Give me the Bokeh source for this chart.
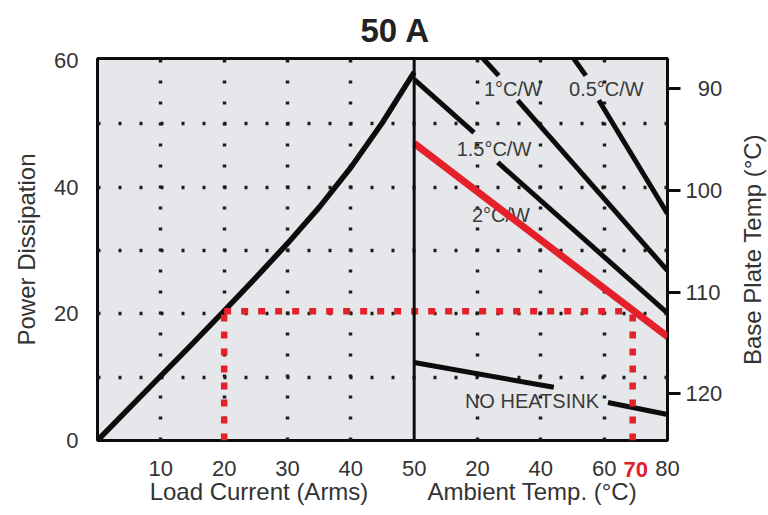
import math
from bokeh.plotting import figure
from bokeh.layouts import row
from bokeh.models import Range1d, LinearAxis, FixedTicker, Grid, Span
from bokeh.core.properties import value
from bokeh.embed import file_html
from bokeh.resources import INLINE

# ---------------- data ----------------
load_current = [0, 5, 10, 15, 20, 25, 30, 35, 40, 45, 50]
power_dissipation = [0, 5.1, 10.2, 15.3, 20.45, 25.7, 31.1, 36.8, 43.1, 50.2, 58.15]

# heatsink derating lines: ambient temp (degC) vs power (W); gaps where labels sit
hs_1p5_a_amb = [0.0, 18.9]
hs_1p5_a_pw = [57.0, 48.6]
hs_1p5_b_amb = [26.4, 80.0]
hs_1p5_b_pw = [43.9, 20.1]
hs_1_a_amb = [21.4, 26.7]
hs_1_a_pw = [60.5, 57.6]
hs_1_b_amb = [32.7, 80.0]
hs_1_b_pw = [53.7, 26.8]
hs_0p5_a_amb = [50.1, 54.2]
hs_0p5_a_pw = [60.5, 57.6]
hs_0p5_b_amb = [58.3, 80.0]
hs_0p5_b_pw = [53.7, 35.8]
no_hs_a_amb = [0.0, 44.1]
no_hs_a_pw = [12.3, 8.4]
no_hs_b_amb = [61.2, 80.0]
no_hs_b_pw = [6.0, 4.1]
hs_2_amb = [0.0, 80.0]
hs_2_pw = [46.9, 16.4]

hs_label_text = ["1°C/W", "0.5°C/W", "1.5°C/W", "2°C/W", "NO HEATSINK"]
hs_label_amb = [31.2, 60.7, 25.2, 27.4, 37.2]
hs_label_pw = [55.5, 55.5, 46.0, 35.6, 6.3]

op_load = 20
op_power = 20.4
op_amb = 69
op_amb_tick = 70

load_ticks = [10, 20, 30, 40, 50]
amb_ticks = [20, 40, 60, 80]
power_ticks = [0, 20, 40, 60]
base_plate_ticks = [90, 100, 110, 120]
power_grid = [10, 20, 30, 40, 50]
load_grid = [10, 20, 30, 40]
amb_grid = [20, 40, 60]

load_title = "Load Current (Arms)"
load_title_at = 25.5          # load current (A) under which it is centred
amb_title = "Ambient Temp. (°C)"
amb_title_at = 37.3           # ambient temp (°C) under which it is centred
bp_title = "Base Plate Temp (°C)"

LOAD_END = 90.0      # load-current scale across the full frame
DIVIDER = 50         # load current where the ambient section begins (ambient 0)
AMB_START, AMB_END = -100.0, 80.0
P_END = 60.3
BP_BOTTOM, BP_TOP = 124.6, 87.0

RED = "#e4202a"
INK = "#0c0c0c"
TXT = "#333333"
FONT = "Liberation Sans"

BORDER_TOP, BORDER_BOTTOM = 58, 74
MAIN_W, SIDE_W, H = 727, 41, 514


def amb_to_load(t):
    return DIVIDER + t * (LOAD_END - DIVIDER) / AMB_END


bp_range = Range1d(BP_BOTTOM, BP_TOP)

p = figure(width=MAIN_W, height=H,
           x_range=Range1d(0, LOAD_END), y_range=Range1d(0, P_END),
           output_backend="svg", toolbar_location=None,
           min_border_left=97, min_border_right=60,
           min_border_top=BORDER_TOP, min_border_bottom=BORDER_BOTTOM,
           background_fill_color="#e5e7ea", border_fill_color="white",
           outline_line_color=INK, outline_line_width=3)
p.extra_x_ranges = {"amb": Range1d(AMB_START, AMB_END)}
p.extra_y_ranges = {"bp": bp_range}

# title
p.title.text = "50 A"
p.title.align = "left"
p.title.offset = 263
p.title.text_font = FONT
p.title.text_font_size = "33px"
p.title.text_font_style = "bold"
p.title.text_color = "#222222"
p.title.standoff = 19


def plain_axis(ax, size="22px"):
    ax.axis_line_color = None
    ax.major_tick_line_color = None
    ax.major_tick_out = 0
    ax.major_tick_in = 0
    ax.minor_tick_line_color = None
    ax.minor_tick_out = 0
    ax.major_label_text_font = FONT
    ax.major_label_text_font_size = size
    ax.major_label_text_color = TXT


# bottom axis (load current + ambient temp ticks)
xa = p.xaxis[0]
amb_pos = [int(round(amb_to_load(t))) for t in amb_ticks]
xa.ticker = FixedTicker(ticks=load_ticks + amb_pos)
xa.major_label_overrides = {pos: str(t) for pos, t in zip(amb_pos, amb_ticks)}
plain_axis(xa)
xa.major_label_standoff = 20

# highlighted ambient tick (red), drawn on the same row as the other tick labels
xr = LinearAxis(x_range_name="amb", ticker=FixedTicker(ticks=[op_amb_tick]))
plain_axis(xr)
xr.major_label_text_color = RED
xr.major_label_text_font_style = "bold"
xr.major_label_standoff = -17
p.add_layout(xr, "below")

# section titles under the two halves of the x axis
t_pos = [load_title_at, round(amb_to_load(amb_title_at), 2)]
xt = LinearAxis(ticker=FixedTicker(ticks=t_pos))
xt.major_label_overrides = {t_pos[0]: load_title, t_pos[1]: amb_title}
plain_axis(xt, "24px")
xt.major_label_standoff = -2
p.add_layout(xt, "below")

# left axis
ya = p.yaxis[0]
ya.ticker = FixedTicker(ticks=power_ticks)
ya.axis_label = "Power Dissipation"
plain_axis(ya)
ya.major_label_standoff = 19
ya.axis_label_standoff = 11
ya.axis_label_text_font = FONT
ya.axis_label_text_font_size = "24px"
ya.axis_label_text_font_style = "normal"
ya.axis_label_text_color = TXT

# right axis: base plate temperature
ra = LinearAxis(y_range_name="bp", ticker=FixedTicker(ticks=base_plate_ticks))
ra.major_label_overrides = {90: "\u00a0\u00a090"}
ra.axis_line_color = None
ra.major_tick_line_color = INK
ra.major_tick_line_width = 3
ra.major_tick_out = 13
ra.major_tick_in = 0
ra.minor_tick_line_color = None
ra.minor_tick_out = 0
ra.major_label_standoff = 5
ra.major_label_text_font = FONT
ra.major_label_text_font_size = "22px"
ra.major_label_text_color = TXT
p.add_layout(ra, "right")

# dotted grids
grid_style = dict(grid_line_color="#1c1c1c", grid_line_width=3.5, grid_line_dash="3 18")
p.xgrid.ticker = FixedTicker(ticks=load_grid)
p.ygrid.ticker = FixedTicker(ticks=power_grid)
for g in (p.xgrid[0], p.ygrid[0]):
    for k, v in grid_style.items():
        setattr(g, k, v)
amb_g = Grid(dimension=0, ticker=FixedTicker(ticks=amb_grid), x_range_name="amb", **grid_style)
p.add_layout(amb_g, "center")

# divider between the two sections
p.add_layout(Span(location=DIVIDER, dimension="height", line_color=INK, line_width=3))

# power dissipation curve
p.line(load_current, power_dissipation, line_width=5.5, color=INK, line_join="round")

# heatsink lines
for xs, ys in [(hs_1p5_a_amb, hs_1p5_a_pw), (hs_1p5_b_amb, hs_1p5_b_pw),
               (hs_1_a_amb, hs_1_a_pw), (hs_1_b_amb, hs_1_b_pw),
               (hs_0p5_a_amb, hs_0p5_a_pw), (hs_0p5_b_amb, hs_0p5_b_pw),
               (no_hs_a_amb, no_hs_a_pw), (no_hs_b_amb, no_hs_b_pw)]:
    p.line(xs, ys, x_range_name="amb", line_width=5, color=INK)

p.text(x=hs_label_amb, y=hs_label_pw, text=hs_label_text, x_range_name="amb",
       text_font=value(FONT), text_font_size="20px", text_color="#3a3a3a",
       text_align="center", text_baseline="middle")

# red highlighted 2°C/W line and operating point
p.line(hs_2_amb, hs_2_pw, x_range_name="amb", line_width=7, color=RED)
dot = dict(line_width=6.5, color=RED, line_dash="7 10")
p.line([op_load, op_load], [0, op_power], **dot)
p.line([op_load, amb_to_load(op_amb)], [op_power, op_power], **dot)
p.line([op_amb, op_amb], [0, op_power], x_range_name="amb", **dot)

# strip to the right carrying the base-plate axis title (reads bottom to top)
side = figure(width=SIDE_W, height=H, title=None,
              x_range=Range1d(0, SIDE_W), y_range=bp_range,
              output_backend="svg", toolbar_location=None,
              x_axis_type=None, y_axis_type=None,
              min_border_left=0, min_border_right=0,
              min_border_top=BORDER_TOP, min_border_bottom=BORDER_BOTTOM,
              outline_line_color=None, background_fill_color="white",
              border_fill_color="white")
side.text(x=[SIDE_W * 0.61], y=[(BP_BOTTOM + BP_TOP) / 2], text=[bp_title],
          angle=math.pi / 2, text_font=value(FONT), text_font_size="24px",
          text_color=TXT, text_align="center", text_baseline="middle")

layout = row(p, side, spacing=0)
open("out.html", "w").write(file_html(layout, INLINE))
